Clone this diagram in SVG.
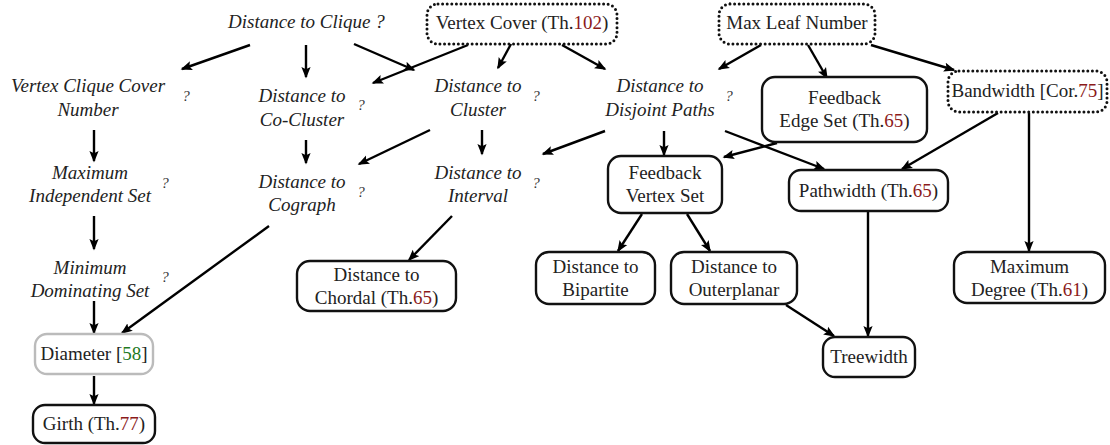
<svg xmlns="http://www.w3.org/2000/svg" width="1110" height="445" viewBox="0 0 1110 445" font-family="'Liberation Serif', 'DejaVu Serif', serif">
  <style>
    text { font-family: 'Liberation Serif', 'DejaVu Serif', serif; font-size: 19px; fill: #222; }
    .it { font-style: italic; }
    .q { font-size: 15px; font-style: italic; fill: #333; }
    .ref { fill: #8b1a1a; }
    .cite { fill: #1f7a1f; }
    .box { fill: #fff; stroke: #111; stroke-width: 2.4; }
    .dot { fill: #fff; stroke: #111; stroke-width: 3; stroke-dasharray: 0 4.6; stroke-linecap: round; }
    .soft { fill: #fff; stroke: #bbb; stroke-width: 2.4; }
    .edge { fill: none; stroke: #000; stroke-width: 2.4; marker-end: url(#arr); }
  </style>
  <defs>
    <marker id="arr" viewBox="0 -5 12 10" refX="10" refY="0" markerWidth="12" markerHeight="10" markerUnits="userSpaceOnUse" orient="auto">
      <path d="M0,-4.6 L11.5,0 L0,4.6 L2.2,0 z" fill="#000"/>
    </marker>
  </defs>

  <!-- connectors -->
  <g id="connectors">
    <line class="edge" x1="250" y1="45" x2="182" y2="69"/>
    <line class="edge" x1="306" y1="45" x2="306" y2="77"/>
    <line class="edge" x1="354" y1="44" x2="414" y2="70"/>
    <line class="edge" x1="468" y1="45" x2="373" y2="83"/>
    <line class="edge" x1="511" y1="44" x2="498" y2="68"/>
    <line class="edge" x1="562" y1="45" x2="605" y2="69"/>
    <line class="edge" x1="761" y1="45" x2="719" y2="69"/>
    <line class="edge" x1="808" y1="45" x2="827" y2="78"/>
    <line class="edge" x1="871" y1="45" x2="954" y2="70"/>
    <line class="edge" x1="94" y1="130" x2="94" y2="161"/>
    <line class="edge" x1="94" y1="216" x2="94" y2="249"/>
    <line class="edge" x1="94" y1="301" x2="94" y2="333"/>
    <line class="edge" x1="94" y1="376" x2="94" y2="404"/>
    <line class="edge" x1="306" y1="140" x2="306" y2="163"/>
    <line class="edge" x1="430" y1="130" x2="359" y2="164"/>
    <line class="edge" x1="482" y1="130" x2="482" y2="154"/>
    <line class="edge" x1="605" y1="131" x2="543" y2="154"/>
    <line class="edge" x1="664" y1="131" x2="664" y2="155"/>
    <line class="edge" x1="725" y1="131" x2="824" y2="169"/>
    <line class="edge" x1="777" y1="143" x2="724" y2="157"/>
    <line class="edge" x1="998" y1="113" x2="902" y2="169"/>
    <line class="edge" x1="1029" y1="113" x2="1029" y2="251"/>
    <line class="edge" x1="269" y1="226" x2="122" y2="333"/>
    <line class="edge" x1="452" y1="216" x2="409" y2="260"/>
    <line class="edge" x1="642" y1="214" x2="618" y2="251"/>
    <line class="edge" x1="687" y1="214" x2="710" y2="251"/>
    <line class="edge" x1="868" y1="212" x2="868" y2="336"/>
    <line class="edge" x1="786" y1="305" x2="834" y2="336"/>
  </g>

  <!-- italic labels without frames -->
  <g id="dist-clique">
    <text class="it" x="228" y="28">Distance to Clique ?</text>
  </g>
  <g id="vertex-clique-cover">
    <text class="it" x="88" y="92" text-anchor="middle">Vertex Clique Cover</text>
    <text class="it" x="88" y="116" text-anchor="middle">Number</text>
    <text class="q" x="186" y="101" text-anchor="middle">?</text>
  </g>
  <g id="dist-cocluster">
    <text class="it" x="302" y="102" text-anchor="middle">Distance to</text>
    <text class="it" x="302" y="126" text-anchor="middle">Co-Cluster</text>
    <text class="q" x="361" y="110" text-anchor="middle">?</text>
  </g>
  <g id="dist-cluster">
    <text class="it" x="478" y="92" text-anchor="middle">Distance to</text>
    <text class="it" x="478" y="116" text-anchor="middle">Cluster</text>
    <text class="q" x="536" y="101" text-anchor="middle">?</text>
  </g>
  <g id="dist-disjoint-paths">
    <text class="it" x="660" y="92" text-anchor="middle">Distance to</text>
    <text class="it" x="660" y="116" text-anchor="middle">Disjoint Paths</text>
    <text class="q" x="729" y="101" text-anchor="middle">?</text>
  </g>
  <g id="max-independent-set">
    <text class="it" x="90" y="179" text-anchor="middle">Maximum</text>
    <text class="it" x="90" y="202" text-anchor="middle">Independent Set</text>
    <text class="q" x="165" y="188" text-anchor="middle">?</text>
  </g>
  <g id="min-dominating-set">
    <text class="it" x="90" y="274" text-anchor="middle">Minimum</text>
    <text class="it" x="90" y="297" text-anchor="middle">Dominating Set</text>
    <text class="q" x="165" y="282" text-anchor="middle">?</text>
  </g>
  <g id="dist-cograph">
    <text class="it" x="302" y="188" text-anchor="middle">Distance to</text>
    <text class="it" x="302" y="211" text-anchor="middle">Cograph</text>
    <text class="q" x="361" y="197" text-anchor="middle">?</text>
  </g>
  <g id="dist-interval">
    <text class="it" x="478" y="179" text-anchor="middle">Distance to</text>
    <text class="it" x="478" y="202" text-anchor="middle">Interval</text>
    <text class="q" x="536" y="188" text-anchor="middle">?</text>
  </g>

  <!-- dotted frames -->
  <g id="vertex-cover">
    <rect class="dot" x="427" y="4" width="190" height="40" rx="11"/>
    <text x="522" y="29" text-anchor="middle">Vertex Cover (Th.<tspan class="ref">102</tspan>)</text>
  </g>
  <g id="max-leaf">
    <rect class="dot" x="719" y="4" width="156" height="40" rx="11"/>
    <text x="797" y="29" text-anchor="middle">Max Leaf Number</text>
  </g>
  <g id="bandwidth">
    <rect class="dot" x="948" y="71" width="159" height="41" rx="11"/>
    <text x="1027.5" y="97" text-anchor="middle">Bandwidth [Cor.<tspan class="ref">75</tspan>]</text>
  </g>

  <!-- solid frames -->
  <g id="feedback-edge-set">
    <rect class="box" x="762" y="77" width="165" height="65" rx="13"/>
    <text x="844.5" y="104" text-anchor="middle">Feedback</text>
    <text x="844.5" y="127" text-anchor="middle">Edge Set (Th.<tspan class="ref">65</tspan>)</text>
  </g>
  <g id="feedback-vertex-set">
    <rect class="box" x="608" y="156" width="114" height="57" rx="13"/>
    <text x="665" y="179" text-anchor="middle">Feedback</text>
    <text x="665" y="202" text-anchor="middle">Vertex Set</text>
  </g>
  <g id="pathwidth">
    <rect class="box" x="789" y="170" width="159" height="41" rx="12"/>
    <text x="868.5" y="197" text-anchor="middle">Pathwidth (Th.<tspan class="ref">65</tspan>)</text>
  </g>
  <g id="dist-chordal">
    <rect class="box" x="297" y="261" width="159" height="50" rx="13"/>
    <text x="376.5" y="281" text-anchor="middle">Distance to</text>
    <text x="376.5" y="304" text-anchor="middle">Chordal (Th.<tspan class="ref">65</tspan>)</text>
  </g>
  <g id="dist-bipartite">
    <rect class="box" x="536" y="252" width="119" height="52" rx="13"/>
    <text x="595.5" y="273" text-anchor="middle">Distance to</text>
    <text x="595.5" y="296" text-anchor="middle">Bipartite</text>
  </g>
  <g id="dist-outerplanar">
    <rect class="box" x="671" y="252" width="126" height="52" rx="13"/>
    <text x="734" y="273" text-anchor="middle">Distance to</text>
    <text x="734" y="296" text-anchor="middle">Outerplanar</text>
  </g>
  <g id="max-degree">
    <rect class="box" x="954" y="252" width="151" height="51" rx="13"/>
    <text x="1029.5" y="273" text-anchor="middle">Maximum</text>
    <text x="1029.5" y="296" text-anchor="middle">Degree (Th.<tspan class="ref">61</tspan>)</text>
  </g>
  <g id="diameter">
    <rect class="soft" x="35" y="334" width="118" height="40" rx="12"/>
    <text x="94" y="360" text-anchor="middle">Diameter [<tspan class="cite">58</tspan>]</text>
  </g>
  <g id="treewidth">
    <rect class="box" x="823" y="337" width="92" height="40" rx="12"/>
    <text x="869" y="363" text-anchor="middle">Treewidth</text>
  </g>
  <g id="girth">
    <rect class="box" x="33" y="405" width="122" height="38" rx="12"/>
    <text x="94" y="430" text-anchor="middle">Girth (Th.<tspan class="ref">77</tspan>)</text>
  </g>
</svg>
